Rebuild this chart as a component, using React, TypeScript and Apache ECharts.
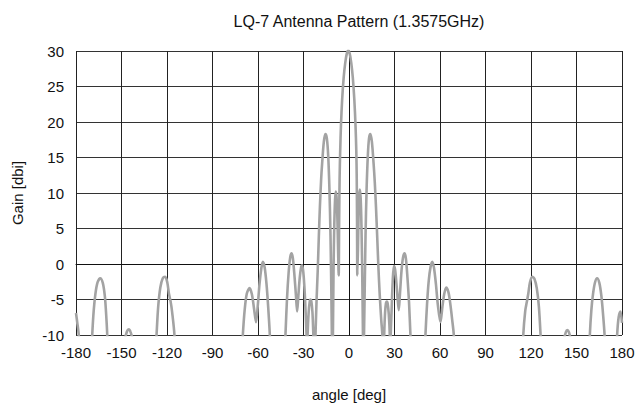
import React, { useEffect, useRef } from "react";
import * as echarts from "echarts";

const title = "LQ-7 Antenna Pattern (1.3575GHz)";
const xName = "angle [deg]";
const yName = "Gain [dbi]";

const angles: number[] = [
  -180, -179.2, -178.2, -177.2, -174, -171,
  -169.3, -168.3, -167.2, -165.8, -164.0, -162.3, -161.0, -160.2, -159.4, -158.4, -154,
  -149.5, -147.8, -146.4, -145.2, -144.0, -142.6, -141.0, -134,
  -128.4, -126.9, -125.8, -124.4, -122.8, -121.2, -119.8, -118.7, -117.6, -116.6, -115.1, -114.0, -100, -85,
  -71.5, -70.0, -68.8, -67.4, -65.6, -64.0, -62.6, -61.3, -60.2, -59.0, -57.8, -56.8, -55.6, -54.4, -53.3, -52.2, -51.2, -47,
  -43.2, -41.9, -40.9, -39.8, -38.8, -37.9, -37.0, -35.9, -35.0, -34.2, -33.4, -32.5, -31.6, -30.9, -30.1, -29.3, -28.6, -28.0, -27.65,
  -27.3, -26.6, -25.9, -25.4, -24.8, -24.1, -23.5, -22.8,
  -22.1, -21.4, -20.6, -19.9, -19.2, -18.4, -17.7, -16.6, -15.6, -14.6, -13.7, -12.9, -12.2, -11.7, -11.3, -11.0,
  -10.6, -10.2, -9.7, -9.2, -8.7, -8.2, -7.7, -7.2, -6.8,
  -6.5, -6.2, -5.8, -5.3, -4.5, -3.5, -2.5, -1.5, -0.5, 0.5, 1.5, 2.5, 3.5, 4.3, 4.8, 5.1, 5.3, 5.5,
  5.9, 6.3, 6.7, 7.2, 7.7, 8.2, 8.7, 9.2, 9.5,
  9.9, 10.4, 10.9, 11.6, 12.4, 13.2, 14.1, 15.1, 16.2, 17.0, 17.8, 18.6, 19.4, 20.3, 21.3, 22.0, 22.6,
  23.2, 23.8, 24.4, 24.9, 25.5, 26.2, 26.9, 27.2,
  27.5, 28.1, 28.8, 29.6, 30.4, 31.3, 32.1, 32.8, 33.6, 34.6, 35.6, 36.6, 37.5, 38.5, 39.6, 40.5, 41.8, 46,
  49.2, 50.4, 51.5, 52.6, 53.8, 54.9, 56.0, 57.3, 58.6, 60.3, 61.6, 62.8, 64.1, 65.6, 66.9, 68.0, 69.1, 70.4, 85, 100,
  113.6, 114.9, 116.2, 117.2, 118.2, 119.3, 120.8, 122.3, 123.8, 125.2, 126.3, 127.6, 134,
  140.2, 141.6, 143.0, 143.9, 145.0, 146.2, 147.8, 154,
  157.6, 158.8, 159.8, 160.9, 162.2, 163.6, 165.1, 166.4, 167.4, 168.5, 169.6, 173,
  175.6, 176.8, 177.8, 179.0, 180,
];

const gains: number[] = [
  -6.9, -8.2, -10, -16, -28, -18,
  -10, -6.5, -4.2, -2.6, -2.0, -2.7, -4.5, -6.8, -10, -17, -28,
  -16, -10.8, -9.5, -9.2, -9.6, -10.8, -16, -28,
  -16, -10, -6, -3.3, -2.0, -1.8, -2.6, -4.2, -5.3, -6.8, -10, -17, -30, -30,
  -16, -10, -6.5, -4.2, -3.4, -4.3, -6.3, -8.2, -6.0, -2.8, -0.6, 0.3, -0.5, -2.8, -6.0, -10, -16, -26,
  -16, -10, -5, -1.2, 0.9, 1.5, 0.8, -1.8, -4.4, -6.7, -4.5, -2.0, -0.5, -0.2, -1.2, -3.6, -6.8, -10, -14,
  -10, -6.8, -5.3, -5.0, -5.3, -6.8, -10, -15,
  -10, -5.2, -0.8, 3.8, 8.0, 11.8, 14.2, 17.2, 18.3, 17.7, 15.2, 10.5, 4.0, -3.0, -10, -15,
  -10, -1, 5.5, 9.0, 10.2, 9.4, 6.8, 2.0, -1.6,
  6.0, 12.0, 16.0, 19.5, 23.2, 26.3, 28.3, 29.6, 30.1, 29.6, 28.3, 26.3, 23.2, 19.5, 16.0, 12.0, 6.0, -1.6,
  2.0, 6.8, 9.6, 10.5, 9.2, 5.5, -1, -10, -15,
  -10, -3.0, 4.0, 10.5, 15.2, 17.7, 18.3, 17.2, 14.2, 11.5, 8.0, 3.8, -0.5, -4.5, -8, -10, -15,
  -10, -6.8, -5.5, -5.3, -5.6, -7, -10, -14,
  -10, -6.5, -2.5, -0.3, -0.8, -2.8, -5.0, -6.5, -4.2, -1.0, 0.9, 1.5, 0.8, -1.8, -5.5, -10, -16, -26,
  -16, -10, -5.5, -2.3, -0.4, 0.3, -0.5, -2.8, -5.8, -8.2, -6.0, -4.2, -3.3, -4.0, -5.8, -7.8, -10, -16, -30, -30,
  -17, -10, -6.6, -5.4, -4.2, -2.6, -1.8, -2.1, -3.4, -6.0, -10, -16, -28,
  -16, -10.8, -9.6, -9.3, -9.6, -10.8, -16, -28,
  -17, -10, -6.5, -4.2, -2.6, -2.0, -2.7, -4.5, -6.8, -10, -17, -28,
  -17, -10, -7.5, -6.7, -8.3,
];

const xTicks = [-180, 180, 30];
const yTicks = [-10, 30, 5];

export default function App() {
  const ref = useRef<HTMLDivElement>(null);
  useEffect(() => {
    if (!ref.current) return;
    const chart = echarts.init(ref.current, undefined, { renderer: "svg" });
    const font = "'Liberation Sans', Arial, sans-serif";
    const data = angles.map((a, i) => [a, gains[i]]);
    chart.setOption({
      animation: false,
      backgroundColor: "#fff",
      textStyle: { fontFamily: font },
      title: {
        text: title,
        left: 354,
        textAlign: "center",
        top: 8,
        textStyle: { fontSize: 16, fontWeight: "normal", color: "#111", fontFamily: font },
      },
      grid: { left: 76, right: 16, top: 51, bottom: 68 },
      xAxis: {
        type: "value",
        min: xTicks[0],
        max: xTicks[1],
        interval: xTicks[2],
        name: xName,
        nameLocation: "middle",
        nameGap: 52,
        nameTextStyle: { fontSize: 15, color: "#111", fontFamily: font },
        axisLine: { show: true, lineStyle: { color: "#111", width: 1 } },
        axisTick: { show: false },
        axisLabel: { fontSize: 15, color: "#111", margin: 10, fontFamily: font },
        splitLine: { show: true, lineStyle: { color: "#222", width: 1 } },
      },
      yAxis: {
        type: "value",
        min: yTicks[0],
        max: yTicks[1],
        interval: yTicks[2],
        name: yName,
        nameLocation: "middle",
        nameGap: 51,
        nameRotate: 90,
        nameTextStyle: { fontSize: 15, color: "#111", fontFamily: font },
        axisLine: { show: true, lineStyle: { color: "#111", width: 1 } },
        axisTick: { show: false },
        axisLabel: { fontSize: 15, color: "#111", margin: 12, fontFamily: font },
        splitLine: { show: true, lineStyle: { color: "#333", width: 1 } },
      },
      series: [
        {
          type: "line",
          data,
          showSymbol: false,
          symbol: "none",
          smooth: 0.3,
          clip: true,
          lineStyle: { color: "#a3a3a3", width: 2.6 },
        },
      ],
    });
    return () => chart.dispose();
  }, []);
  return <div ref={ref} style={{ width: 638, height: 407, position: "absolute", left: 0, top: 0 }} />;
}
